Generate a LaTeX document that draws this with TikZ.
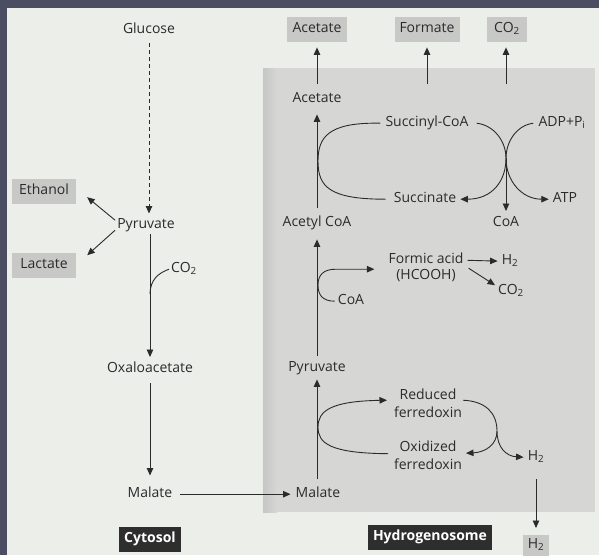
\documentclass[tikz,border=0pt]{standalone}
\usepackage{fontspec}
\setmainfont{Open Sans}
\usetikzlibrary{arrows.meta}
\definecolor{frame}{HTML}{4B4D63}
\definecolor{paper}{HTML}{ECEEEA}
\definecolor{hydro}{HTML}{D6D7D5}
\definecolor{hydroedge}{HTML}{C6C7C5}
\definecolor{lbl}{HTML}{C8C9C7}
\definecolor{ink}{HTML}{2B2B2B}
\definecolor{tag}{HTML}{2E2E2E}
\begin{document}
\begin{tikzpicture}[x=1pt,y=-1pt,
  txt/.style={text=ink,font=\fontsize{14}{18}\selectfont,inner sep=0pt,text height=10pt,text depth=3pt},
  txtm/.style={text=ink,font=\fontsize{14}{18}\selectfont,inner sep=0pt,align=center},
  lblbox/.style={txt,fill=lbl,minimum height=25pt,inner xsep=5pt},
  tagbox/.style={txt,fill=tag,text=white,font=\fontsize{14}{18}\selectfont\bfseries,minimum height=25pt,inner xsep=5pt},
  ln/.style={draw=ink,line width=0.9pt},
  arr/.style={ln,-{Triangle[length=7.5pt,width=6.5pt]}}]
\useasboundingbox (0,0) rectangle (599,555);
\fill[frame] (0,0) rectangle (599,555);
\fill[paper] (7,8) rectangle (599,555);
% hydrogenosome compartment
\fill[hydro] (263,68) rectangle (595,512);
\shade[left color=hydroedge,right color=hydro] (263,68) rectangle (277,512);

\begin{scope}[yshift=-1.2pt]
% cytosol nodes
\node[txt] (glc) at (149,29) {Glucose};
\node[txt] (pyrL) at (146,224) {Pyruvate};
\node[lblbox,minimum width=64pt] (eth) at (44,190) {Ethanol};
\node[lblbox,minimum width=64pt] (lac) at (44,264) {Lactate};
\node[txt] (co2L) at (184,268) {CO\textsubscript{2}};
\node[txt] (oxa) at (150,368) {Oxaloacetate};
\node[txt] (malL) at (150,493) {Malate};
\node[tagbox] (cyt) at (150,538) {Cytosol};

% hydrogenosome nodes
\node[txt] (malR) at (318,493) {Malate};
\node[txt] (pyrR) at (317,367) {Pyruvate};
\node[txt] (acoa) at (317,222) {Acetyl CoA};
\node[txt] (aceIn) at (317,98) {Acetate};
\node[lblbox,minimum width=60pt] (aceBox) at (317,28) {Acetate};
\node[lblbox,minimum width=63pt] (forBox) at (427,28) {Formate};
\node[lblbox,minimum width=40pt] (co2Box) at (507,28) {CO\textsubscript{2}};
\node[txt] (scoa) at (427,122) {Succinyl-CoA};
\node[txt] (adp) at (562,122) {ADP+P\textsubscript{i}};
\node[txt] (succ) at (425,198) {Succinate};
\node[txt] (atp) at (565,198) {ATP};
\node[txt] (coa) at (506,222) {CoA};
\node[txt] (formic) at (426,259) {Formic acid};
\node[txt] (hcooh) at (426,275) {(HCOOH)};
\node[txt] (h2a) at (510,260) {H\textsubscript{2}};
\node[txt] (co2b) at (511,290) {CO\textsubscript{2}};
\node[txt] (coaS) at (351,300) {CoA};
\node[txtm] (red) at (428,402) {Reduced\\ferredoxin};
\node[txtm] (oxi) at (428,454) {Oxidized\\ferredoxin};
\node[txt] (h2b) at (536,456) {H\textsubscript{2}};
\node[lblbox,minimum width=24pt,minimum height=21pt] (h2Box) at (536,544) {H\textsubscript{2}};
\node[tagbox] (hyd) at (430,536) {Hydrogenosome};

\coordinate (x1) at (506,157);
\coordinate (x2) at (497,430);
\coordinate (b1) at (318,284);
\coordinate (c1) at (150,293);
\coordinate (fstart) at (427,83);
\coordinate (cstart) at (506,83);

% cytosol connectors
\draw[arr,dashed,dash pattern=on 4pt off 3pt,shorten <=6.5pt,shorten >=5pt] (glc.south) -- (glc.south |- pyrL.north);
\draw[arr] ([shift={(-2pt,5pt)}]pyrL.west) -- ([shift={(11pt,-6pt)}]eth.east);
\draw[arr] ([shift={(-2pt,-5pt)}]pyrL.west) -- ([shift={(11pt,10pt)}]lac.east);
\draw[arr,shorten <=2.5pt,shorten >=5.5pt] (oxa.north |- pyrL.south) -- (oxa.north);
\draw[ln] (c1) .. controls (150,279) and (158,272) .. ([xshift=-2pt]co2L.west);
\draw[arr,shorten <=7.5pt,shorten >=12pt] (oxa.south) -- (oxa.south |- malL.north);
\draw[arr,shorten <=8pt,shorten >=5pt] (malL.east) -- (malR.west);

% hydrogenosome main axis
\draw[arr,shorten <=8.5pt,shorten >=4.5pt] (pyrR.south |- malR.north) -- (pyrR.south);
\draw[arr,shorten <=5.5pt,shorten >=9.5pt] (pyrR.north) -- (acoa.south);
\draw[arr,shorten <=8.5pt,shorten >=8.5pt] (acoa.north) -- (aceIn.south);
\draw[arr,shorten <=8.5pt,shorten >=5.5pt] (aceIn.north) -- (aceBox.south);
\draw[arr,shorten >=5.5pt] (fstart) -- (fstart |- forBox.south);
\draw[arr,shorten >=5.5pt] (cstart) -- (cstart |- co2Box.south);

% succinyl-CoA cycle
\draw[ln] ([xshift=-5pt]scoa.west) .. controls (328,121) and (318,136) .. (318,160)
  .. controls (318,186) and (330,198) .. ([xshift=-8pt]succ.west);
\draw[arr] ([xshift=8pt]scoa.east) .. controls (494,124) and (506,140) .. (x1)
  .. controls (506,180) and (492,198) .. ([xshift=4pt]succ.east);
\draw[arr] ([xshift=-5pt]adp.west) .. controls (517,124) and (506,140) .. (x1)
  .. controls (506,180) and (522,198) .. ([xshift=-4pt]atp.west);
\draw[arr,shorten >=5.5pt] (x1) -- (coa.north);

% pyruvate -> acetyl CoA + formate
\draw[arr] ([xshift=-3pt]coaS.west) .. controls (322,300) and (318,293) .. (b1)
  .. controls (318,274) and (323,268) .. (336,268) -- ([shift={(-14pt,-9pt)}]formic.west);
\draw[arr,shorten <=4pt,shorten >=4pt] (formic.east) -- (h2a.west);
\draw[arr] ([shift={(5pt,-8pt)}]formic.east) -- ([shift={(-3pt,6pt)}]co2b.west);

% ferredoxin cycle
\draw[arr] ([shift={(-40pt,1.5pt)}]oxi.center) .. controls (330,452) and (318,442) .. (318,426)
  .. controls (318,410) and (330,400) .. ([shift={(-41pt,3pt)}]red.center);
\draw[arr] ([shift={(35pt,3pt)}]red.center) .. controls (486,400) and (497,412) .. (x2)
  .. controls (497,443) and (486,451) .. ([shift={(38pt,2pt)}]oxi.center);
\draw[arr] (x2) .. controls (497,446) and (506,455) .. ([xshift=-4pt]h2b.west);
\draw[arr,shorten <=15pt,shorten >=6.5pt] (h2b.south) -- (h2b.south |- h2Box.north);
\end{scope}
\end{tikzpicture}
\end{document}
